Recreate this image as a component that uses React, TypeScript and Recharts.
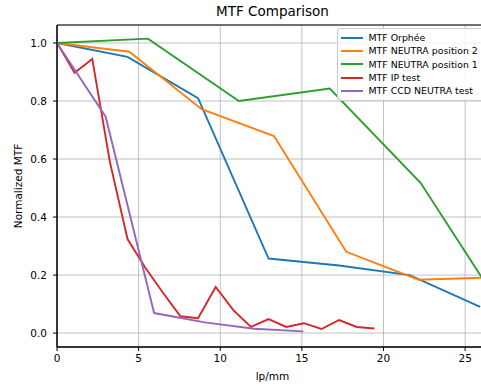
import { LineChart, Line, XAxis, YAxis, CartesianGrid, ReferenceArea } from 'recharts';

// MTF curves, x in lp/mm, y normalized MTF
const orpheeX = [0, 4.32, 8.64, 12.96, 17.28, 21.6, 25.92];
const orpheeY = [1.0, 0.952, 0.81, 0.257, 0.233, 0.2, 0.09];

const neutra2X = [0, 4.43, 8.86, 13.29, 17.72, 22.15, 26.58];
const neutra2Y = [1.0, 0.97, 0.772, 0.679, 0.28, 0.184, 0.192];

const neutra1X = [0, 5.57, 11.14, 16.71, 22.28, 27.85];
const neutra1Y = [1.0, 1.015, 0.8, 0.843, 0.517, 0.032];

const ipX = [0, 1.08, 2.16, 3.24, 4.32, 5.4, 6.48, 7.56, 8.64, 9.72, 10.8, 11.88, 12.96, 14.04, 15.12, 16.2, 17.28, 18.36, 19.44];
const ipY = [1.0, 0.897, 0.945, 0.59, 0.324, 0.226, 0.14, 0.058, 0.051, 0.159, 0.079, 0.021, 0.048, 0.021, 0.034, 0.014, 0.045, 0.021, 0.016];

const ccdX = [0, 2.98, 5.95, 9.05, 12.07, 15.09];
const ccdY = [1.0, 0.746, 0.069, 0.037, 0.015, 0.006];

const xTicks = [0, 5, 10, 15, 20, 25];
const yTicks = [0, 0.2, 0.4, 0.6, 0.8, 1.0];

const X_DOMAIN: [number, number] = [0, 26.4];
const Y_DOMAIN: [number, number] = [-0.048, 1.062];

const FONT = '"DejaVu Sans", sans-serif';

const series = [
    { name: 'MTF Orphée', color: '#1f77b4', xs: orpheeX, ys: orpheeY },
    { name: 'MTF NEUTRA position 2', color: '#ff7f0e', xs: neutra2X, ys: neutra2Y },
    { name: 'MTF NEUTRA position 1', color: '#2ca02c', xs: neutra1X, ys: neutra1Y },
    { name: 'MTF IP test', color: '#d62728', xs: ipX, ys: ipY },
    { name: 'MTF CCD NEUTRA test', color: '#9467bd', xs: ccdX, ys: ccdY },
].map(s => ({ ...s, data: s.xs.map((x, i) => ({ x, y: s.ys[i] })) }));

export default function App() {
    return (
        <div style={{ position: 'absolute', left: 0, top: 0, width: 481, height: 386, overflow: 'hidden', background: '#fff', fontFamily: FONT }}>
            {/* title */}
            <div style={{ position: 'absolute', top: 3, left: 272.5, transform: 'translateX(-50%)', fontSize: 13.5, color: '#000', whiteSpace: 'nowrap' }}>
                MTF Comparison
            </div>

            <LineChart width={489} height={386} margin={{ top: 25, right: 1, bottom: 0, left: 0 }}>
                <CartesianGrid stroke="#b0b0b0" strokeWidth={0.8} />
                <XAxis
                    dataKey="x"
                    type="number"
                    domain={X_DOMAIN}
                    allowDataOverflow
                    ticks={xTicks}
                    height={39}
                    tickSize={4}
                    tickMargin={4}
                    stroke="#000"
                    tick={{ fill: '#000', fontSize: 10.5, fontFamily: FONT }}
                    label={{
                        content: () => (
                            <text x={272.5} y={376} textAnchor="middle" dominantBaseline="central" fontSize={10.5} fontFamily={FONT} fill="#000">lp/mm</text>
                        ),
                    }}
                />
                <YAxis
                    type="number"
                    domain={Y_DOMAIN}
                    allowDataOverflow
                    ticks={yTicks}
                    width={57}
                    tickSize={4}
                    tickMargin={6}
                    stroke="#000"
                    tickFormatter={(v: number) => v.toFixed(1)}
                    tick={{ fill: '#000', fontSize: 10.5, fontFamily: FONT }}
                    label={{
                        content: () => (
                            <text x={18} y={186} transform="rotate(-90, 18, 186)" textAnchor="middle" dominantBaseline="central" fontSize={10.5} fontFamily={FONT} fill="#000">Normalized MTF</text>
                        ),
                    }}
                />
                {/* axes frame */}
                <ReferenceArea x1={X_DOMAIN[0]} x2={X_DOMAIN[1]} y1={Y_DOMAIN[0]} y2={Y_DOMAIN[1]} fill="none" stroke="#000" strokeWidth={1} />
                {series.map(s => (
                    <Line
                        key={s.name}
                        data={s.data}
                        dataKey="y"
                        type="linear"
                        stroke={s.color}
                        strokeWidth={1.9}
                        dot={false}
                        activeDot={false}
                        isAnimationActive={false}
                    />
                ))}
            </LineChart>

            {/* legend */}
            <div style={{
                position: 'absolute', left: 336.5, top: 28, width: 148, height: 73,
                background: 'rgba(255,255,255,0.8)', border: '1px solid #cccccc', borderRadius: 3,
                boxSizing: 'border-box', paddingTop: 2,
            }}>
                {series.map(s => (
                    <div key={s.name} style={{ display: 'flex', alignItems: 'center', height: 13.3 }}>
                        <div style={{ width: 22, height: 2, background: s.color, marginLeft: 3, marginRight: 6 }} />
                        <span style={{ fontSize: 9.4, color: '#000', whiteSpace: 'nowrap' }}>{s.name}</span>
                    </div>
                ))}
            </div>
        </div>
    );
}
